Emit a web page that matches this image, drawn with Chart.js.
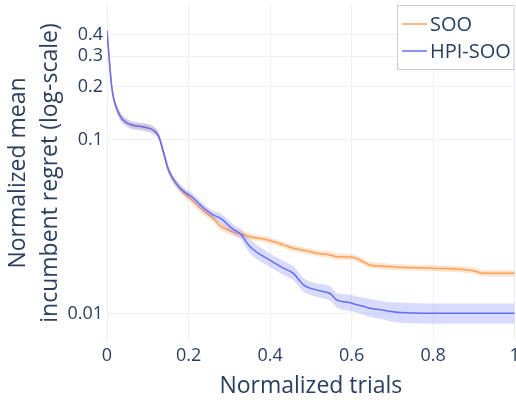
<!DOCTYPE html>
<html>
<head>
<meta charset="utf-8">
<script src="https://cdn.jsdelivr.net/npm/chart.js@4.4.1/dist/chart.umd.min.js"></script>
<style>
  html, body { margin: 0; padding: 0; background: #ffffff; }
  canvas { display: block; }
</style>
</head>
<body>
<canvas id="regretChart" width="516" height="400"></canvas>
<script>
// Normalized trial positions (shared by both methods)
const trials = [0, 0.012, 0.025, 0.05, 0.09, 0.114, 0.127, 0.139, 0.151, 0.18, 0.208, 0.237, 0.26, 0.278, 0.31, 0.327, 0.351, 0.392, 0.433, 0.457, 0.482, 0.515, 0.547, 0.564, 0.596, 0.613, 0.645, 0.678, 0.719, 0.8, 0.899, 0.923, 1.0];

// SOO: mean incumbent regret and its confidence band
const sooMean  = [0.42, 0.197, 0.148, 0.124, 0.118, 0.113, 0.104, 0.083, 0.066, 0.052, 0.045, 0.039, 0.0354, 0.0320, 0.0295, 0.0288, 0.0277, 0.0266, 0.0249, 0.0238, 0.0232, 0.0223, 0.0218, 0.0213, 0.0212, 0.0208, 0.0191, 0.0188, 0.0185, 0.0183, 0.0177, 0.0171, 0.0171];
const sooUpper = [0.437, 0.205, 0.154, 0.129, 0.123, 0.118, 0.108, 0.0863, 0.0686, 0.0541, 0.0474, 0.0411, 0.0373, 0.0337, 0.0311, 0.0304, 0.0288, 0.0277, 0.0259, 0.0248, 0.0241, 0.0232, 0.0227, 0.0222, 0.0220, 0.0216, 0.0199, 0.0196, 0.0192, 0.0190, 0.0184, 0.0178, 0.0178];
const sooLower = [0.404, 0.189, 0.142, 0.119, 0.113, 0.109, 0.100, 0.0798, 0.0634, 0.0500, 0.0427, 0.0370, 0.0336, 0.0304, 0.0280, 0.0273, 0.0266, 0.0256, 0.0239, 0.0229, 0.0223, 0.0214, 0.0209, 0.0205, 0.0204, 0.0200, 0.0184, 0.0181, 0.0178, 0.0176, 0.0170, 0.0164, 0.0164];

// HPI-SOO: mean incumbent regret and its confidence band
const hpiMean  = [0.42, 0.197, 0.148, 0.124, 0.118, 0.113, 0.104, 0.084, 0.067, 0.0525, 0.047, 0.0405, 0.0370, 0.0354, 0.0305, 0.0288, 0.0243, 0.0208, 0.0183, 0.0171, 0.0147, 0.0137, 0.0131, 0.0120, 0.0116, 0.0113, 0.0108, 0.0105, 0.0102, 0.0101, 0.0101, 0.0101, 0.0101];
const hpiUpper = [0.431, 0.202, 0.156, 0.131, 0.124, 0.119, 0.110, 0.0885, 0.0706, 0.0553, 0.0495, 0.0427, 0.0390, 0.0378, 0.0326, 0.0308, 0.0267, 0.0228, 0.0201, 0.0188, 0.0161, 0.0150, 0.0144, 0.0132, 0.0129, 0.0126, 0.0122, 0.0118, 0.0116, 0.0115, 0.0115, 0.0115, 0.0115];
const hpiLower = [0.409, 0.192, 0.140, 0.118, 0.112, 0.107, 0.0987, 0.0797, 0.0636, 0.0498, 0.0446, 0.0384, 0.0351, 0.0331, 0.0285, 0.0270, 0.0222, 0.0190, 0.0167, 0.0156, 0.0134, 0.0125, 0.0119, 0.0109, 0.0104, 0.0102, 0.0096, 0.0093, 0.0089, 0.0088, 0.0088, 0.0088, 0.0088];

// Axis ticks
const xTickValues = [0, 0.2, 0.4, 0.6, 0.8, 1];
const xTickLabels = ['0', '0.2', '0.4', '0.6', '0.8', '1'];
const yTickValues = [0.01, 0.1, 0.2, 0.3, 0.4];
const yTickLabels = ['0.01', '0.1', '0.2', '0.3', '0.4'];

const seriesNames = ['SOO', 'HPI-SOO'];

const FONT = '"Open Sans", "DejaVu Sans", sans-serif';
const INK = '#2a3f5f';
const GRID = '#ebf0f8';
const ORANGE = '#ffa15a';
const BLUE = '#636efa';

const pts = (ys) => trials.map((x, i) => ({ x: x, y: ys[i] }));

// Legend box drawn inside the plot, top right
const cornerLegend = {
  id: 'cornerLegend',
  afterDraw(chart) {
    const ctx = chart.ctx;
    const entries = chart.data.datasets.filter(d => d.label);
    const box = { x: 397, y: 5.5, w: 117.5, h: 64 };
    ctx.save();
    ctx.fillStyle = '#ffffff';
    ctx.fillRect(box.x, box.y, box.w, box.h);
    ctx.strokeStyle = '#cccccc';
    ctx.lineWidth = 1;
    ctx.strokeRect(box.x + 0.5, box.y, box.w - 1, box.h);
    ctx.font = '20px ' + FONT;
    ctx.textBaseline = 'middle';
    ctx.textAlign = 'left';
    entries.forEach((d, i) => {
      const cy = 24 + i * 27;
      ctx.strokeStyle = d.borderColor;
      ctx.lineWidth = 1.5;
      ctx.beginPath();
      ctx.moveTo(402, cy);
      ctx.lineTo(427, cy);
      ctx.stroke();
      ctx.fillStyle = INK;
      ctx.fillText(d.label, 430, cy + 1);
    });
    ctx.restore();
  }
};

const bandStyle = {
  pointRadius: 0,
  borderWidth: 0,
  cubicInterpolationMode: 'monotone'
};

new Chart(document.getElementById('regretChart'), {
  type: 'line',
  data: {
    datasets: [
      Object.assign({ data: pts(sooUpper), fill: false, borderColor: 'rgba(0,0,0,0)', order: 3 }, bandStyle),
      Object.assign({ data: pts(sooLower), fill: '-1', borderColor: 'rgba(0,0,0,0)', backgroundColor: 'rgba(255,161,90,0.3)', order: 3 }, bandStyle),
      { label: seriesNames[0], data: pts(sooMean), borderColor: ORANGE, borderWidth: 1.5, pointRadius: 0, fill: false, cubicInterpolationMode: 'monotone', order: 2 },
      Object.assign({ data: pts(hpiUpper), fill: false, borderColor: 'rgba(0,0,0,0)', order: 1 }, bandStyle),
      Object.assign({ data: pts(hpiLower), fill: '-1', borderColor: 'rgba(0,0,0,0)', backgroundColor: 'rgba(99,110,250,0.25)', order: 1 }, bandStyle),
      { label: seriesNames[1], data: pts(hpiMean), borderColor: BLUE, borderWidth: 1.5, pointRadius: 0, fill: false, cubicInterpolationMode: 'monotone', order: 0 }
    ]
  },
  options: {
    responsive: false,
    animation: false,
    devicePixelRatio: 1,
    layout: { padding: { top: 5, right: 1.3, bottom: 0, left: 0 } },
    plugins: {
      legend: { display: false },
      tooltip: { enabled: false }
    },
    scales: {
      x: {
        type: 'linear',
        min: 0,
        max: 1,
        afterBuildTicks(scale) { scale.ticks = xTickValues.map(v => ({ value: v })); },
        afterFit(scale) { scale.height = 59; scale.paddingLeft = 0; scale.paddingRight = 0; },
        ticks: {
          padding: 4,
          color: INK,
          font: { family: FONT, size: 18 },
          maxRotation: 0,
          autoSkip: false,
          callback: (v) => xTickLabels[xTickValues.indexOf(v)]
        },
        grid: { color: GRID, lineWidth: 1, drawTicks: false },
        border: { display: false },
        title: {
          display: true,
          text: 'Normalized trials',
          color: INK,
          font: { family: FONT, size: 23, lineHeight: 1.2 },
          padding: { top: 0, bottom: 0 }
        }
      },
      y: {
        type: 'logarithmic',
        min: 0.0070,
        max: 0.59,
        afterBuildTicks(scale) { scale.ticks = yTickValues.map(v => ({ value: v })); },
        afterFit(scale) { scale.width = 107; scale.paddingTop = 0; scale.paddingBottom = 0; },
        ticks: {
          padding: 4,
          color: INK,
          font: { family: FONT, size: 18 },
          autoSkip: false,
          callback: (v) => yTickLabels[yTickValues.indexOf(v)]
        },
        grid: { color: GRID, lineWidth: 1, drawTicks: false },
        border: { display: false },
        title: {
          display: true,
          text: ['Normalized mean', 'incumbent regret (log-scale)'],
          color: INK,
          font: { family: FONT, size: 23, lineHeight: 1.4 },
          padding: { top: 2, bottom: 0 }
        }
      }
    }
  },
  plugins: [cornerLegend]
});
</script>
</body>
</html>
